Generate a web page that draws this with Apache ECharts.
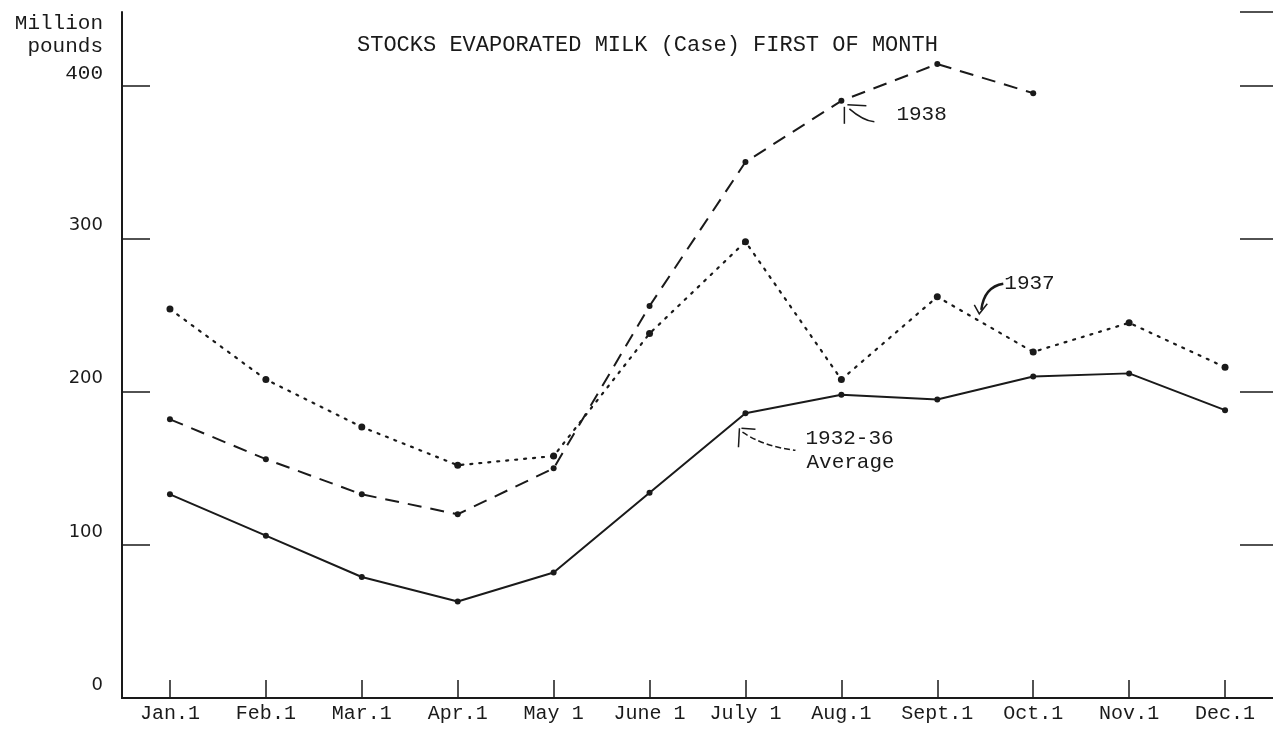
<!DOCTYPE html>
<html><head><meta charset="utf-8">
<script src="https://cdn.jsdelivr.net/npm/echarts@6/dist/echarts.min.js"></script>
<style>html,body{margin:0;padding:0;background:#fff}#c{width:1273px;height:736px}</style>
</head><body><div id="c"></div>
<script>
const months = ['Jan.1','Feb.1','Mar.1','Apr.1','May 1','June 1','July 1','Aug.1','Sept.1','Oct.1','Nov.1','Dec.1'];
const avg3236 = [133,106,79,63,82,134,186,198,195,210,212,188];
const y1937 = [254,208,177,152,158,238,298,208,262,226,245,216];
const y1938 = [182,156,133,120,150,256,350,390,414,395,null,null];
const yTicks = [0,100,200,300,400];
const titleText = 'STOCKS EVAPORATED MILK (Case) FIRST OF MONTH';
const mono = 'Liberation Mono';
const ink = '#1a1a1a';

const chart = echarts.init(document.getElementById('c'), null, {renderer:'canvas'});
const option = {
  animation: false,
  backgroundColor: '#fff',
  title: {
    text: titleText, left: 352, top: 29,
    textStyle: {fontFamily: mono, fontSize: 22, fontWeight: 'normal', color: ink}
  },
  grid: {left: 122, right: 0, top: 12, bottom: 38, containLabel: false},
  xAxis: [{
    type: 'category', data: months, boundaryGap: true, position: 'bottom',
    axisLine: {show: true, lineStyle: {color: ink, width: 2}},
    axisTick: {show: true, inside: true, alignWithLabel: true, length: 18, lineStyle: {color: ink, width: 1.5}},
    axisLabel: {fontFamily: mono, fontSize: 20, color: ink, margin: 6, interval: 0},
    splitLine: {show: false}
  }, {
    type: 'category', data: months, boundaryGap: true, position: 'top',
    axisLine: {show: true, lineStyle: {color: ink, width: 2}},
    axisTick: {show: false}, axisLabel: {show: false}, splitLine: {show: false}
  }],
  yAxis: [{
    type: 'value', min: 0, max: 448, interval: 100, position: 'left',
    axisLine: {show: true, lineStyle: {color: ink, width: 2}},
    axisTick: {show: true, inside: true, length: 28, lineStyle: {color: ink, width: 1.5}},
    axisLabel: {
      margin: 19, verticalAlign: 'bottom', showMaxLabel: false,
      formatter: v => yTicks.includes(v) ? (v === 400 ? '{m|' + v + '}' : '{s|' + v + '}') : '',
      rich: {
        m: {fontFamily: mono, fontSize: 21, color: ink, padding: [0,0,2,0]},
        s: {fontFamily: 'DejaVu Sans', fontSize: 18, color: ink, padding: [0,0,4,0]}
      }
    },
    splitLine: {show: false}
  }, {
    type: 'value', min: 0, max: 448, interval: 100, position: 'right',
    axisLine: {show: false},
    axisTick: {show: true, inside: true, length: 33, lineStyle: {color: ink, width: 1.5}},
    axisLabel: {show: false}, splitLine: {show: false}
  }],
  series: [{
    name: '1932-36 Average', type: 'line', data: avg3236,
    symbol: 'circle', symbolSize: 6, itemStyle: {color: ink},
    lineStyle: {color: ink, width: 2, type: 'solid'}
  }, {
    name: '1937', type: 'line', data: y1937,
    symbol: 'circle', symbolSize: 7, itemStyle: {color: ink},
    lineStyle: {color: ink, width: 2.2, type: [2, 7], cap: 'round'}
  }, {
    name: '1938', type: 'line', data: y1938,
    symbol: 'circle', symbolSize: 6, itemStyle: {color: ink},
    lineStyle: {color: ink, width: 2, type: [14, 9]}
  }]
};
chart.setOption(option);

const pA = chart.convertToPixel({seriesIndex: 0}, [6, avg3236[6]]);
const p37 = chart.convertToPixel({seriesIndex: 1}, [8, y1937[8]]);
const p38 = chart.convertToPixel({seriesIndex: 2}, [7, y1938[7]]);
const ls = {stroke: ink, lineWidth: 1.5, fill: null};
const txt = (x, y, t, align) => ({type: 'text', x: x, y: y, silent: true,
  style: {text: t, fontFamily: mono, fontSize: 21, fill: ink, align: align || 'left', verticalAlign: 'middle'}});
const line = (pts, extra) => ({type: 'polyline', silent: true, shape: {points: pts}, style: Object.assign({}, ls, extra || {})});
const curve = (x1, y1, cx, cy, x2, y2, extra) => ({type: 'bezierCurve', silent: true,
  shape: {x1: x1, y1: y1, cpx1: cx, cpy1: cy, x2: x2, y2: y2}, style: Object.assign({}, ls, extra || {})});

const graphics = [
  {type: 'text', x: 103, y: 12, silent: true,
   style: {text: 'Million\npounds', fontFamily: mono, fontSize: 21, lineHeight: 23, fill: ink, align: 'right', verticalAlign: 'top'}},
  // 1938 annotation
  txt(p38[0] + 55, p38[1] + 14, '1938'),
  line([[p38[0] + 3, p38[1] + 6], [p38[0] + 3, p38[1] + 23]]),
  line([[p38[0] + 6, p38[1] + 4], [p38[0] + 25, p38[1] + 5]]),
  curve(p38[0] + 8, p38[1] + 8, p38[0] + 22, p38[1] + 20, p38[0] + 33, p38[1] + 21),
  // Average annotation
  txt(pA[0] + 60, pA[1] + 25, '1932-36'),
  txt(pA[0] + 61, pA[1] + 49, 'Average'),
  line([[pA[0] - 6, pA[1] + 15], [pA[0] - 7, pA[1] + 34]]),
  line([[pA[0] - 4, pA[1] + 15], [pA[0] + 10, pA[1] + 16]]),
  curve(pA[0] - 3, pA[1] + 19, pA[0] + 20, pA[1] + 34, pA[0] + 50, pA[1] + 37, {lineDash: [6, 3]}),
  // 1937 annotation
  txt(p37[0] + 67, p37[1] - 13, '1937'),
  curve(p37[0] + 66, p37[1] - 13, p37[0] + 47, p37[1] - 10, p37[0] + 44, p37[1] + 13, {lineWidth: 2.5}),
  line([[p37[0] + 37, p37[1] + 8], [p37[0] + 42, p37[1] + 17], [p37[0] + 50, p37[1] + 7]])
];
chart.setOption({graphic: graphics});
</script>
</body></html>
